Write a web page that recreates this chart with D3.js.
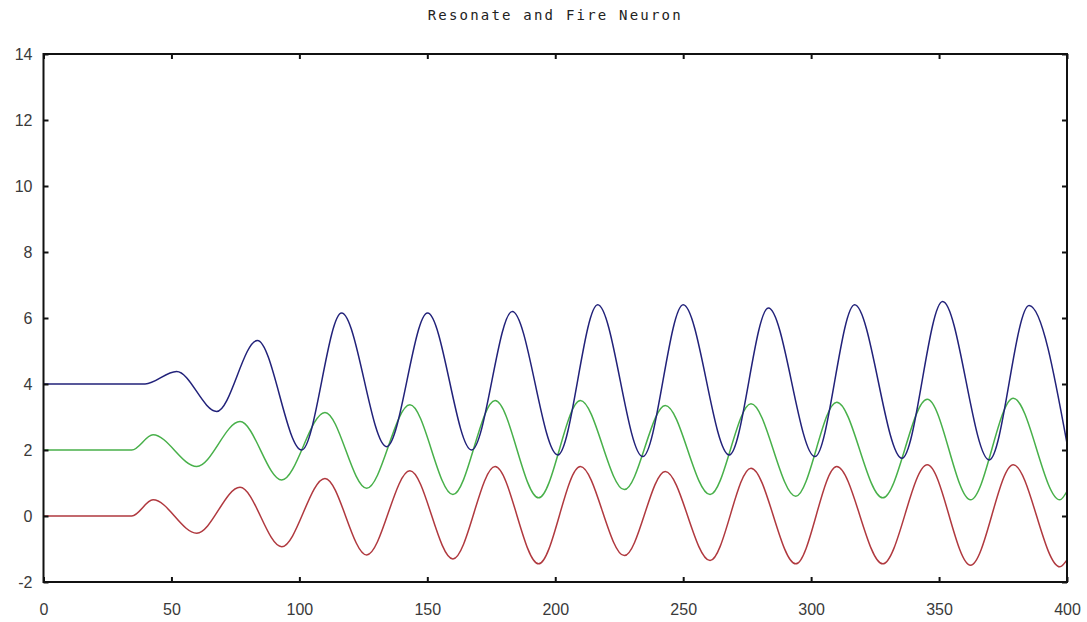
<!DOCTYPE html>
<html>
<head>
<meta charset="utf-8">
<script src="https://cdn.jsdelivr.net/npm/d3@7"></script>
<style>
  html, body { margin: 0; padding: 0; background: #fff; }
  svg { display: block; }
</style>
</head>
<body>
<svg id="chart" width="1087" height="622"></svg>
<script>
// Membrane potential traces of three resonate-and-fire neurons (extrema read per cycle)
const title = "Resonate and Fire Neuron";

const xTicks = [0, 50, 100, 150, 200, 250, 300, 350, 400];
const yTicks = [-2, 0, 2, 4, 6, 8, 10, 12, 14];

const tBlue = [0, 39.7, 52, 67.7, 83.6, 100.9, 116.5, 134.1, 150.1, 167.3, 183.2, 201, 216.6, 234.2, 250, 268, 283.3, 301.5, 317, 335.5, 351.4, 369.6, 385.2, 400];
const vBlue = [4, 4, 4.38, 3.17, 5.32, 2.0, 6.15, 2.1, 6.15, 2.0, 6.2, 1.85, 6.4, 1.8, 6.4, 1.85, 6.3, 1.8, 6.4, 1.75, 6.5, 1.7, 6.38, 2.2];

const tGreen = [0, 34.5, 42.8, 59.9, 76.8, 93.1, 110, 126.3, 143.2, 160, 176.5, 193.5, 209.8, 227, 243, 260.5, 276.5, 294, 310, 328, 345.4, 362.3, 379, 397.2, 400];
const vGreen = [2, 2, 2.46, 1.5, 2.86, 1.09, 3.14, 0.84, 3.37, 0.65, 3.5, 0.55, 3.5, 0.8, 3.35, 0.65, 3.4, 0.6, 3.45, 0.55, 3.54, 0.49, 3.57, 0.49, 0.75];

const tRed = [0, 34.5, 42.8, 59.9, 76.8, 93.1, 110, 126.3, 143.2, 160, 176.5, 193.5, 209.8, 227, 243, 260.5, 276.5, 294, 310, 328, 345.4, 362.3, 379, 397.2, 400];
const vRed = [0, 0, 0.49, -0.52, 0.87, -0.93, 1.14, -1.18, 1.37, -1.3, 1.5, -1.45, 1.5, -1.2, 1.35, -1.35, 1.45, -1.45, 1.5, -1.45, 1.55, -1.49, 1.55, -1.54, -1.33];

const series = [
  { t: tRed,   v: vRed,   color: "#b0393f" },
  { t: tGreen, v: vGreen, color: "#48b04a" },
  { t: tBlue,  v: vBlue,  color: "#22227a" }
];

const svg = d3.select("#chart");

const x = d3.scaleLinear().domain([0, 400]).range([43.5, 1067]);
const y = d3.scaleLinear().domain([-2, 14]).range([582, 54]);

// Curves
const line = d3.line()
  .x(d => x(d[0]))
  .y(d => y(d[1]))
  .curve(d3.curveMonotoneX);

series.forEach(s => {
  const pts = s.t.map((t, i) => [t, s.v[i]]);
  svg.append("path")
    .datum(pts)
    .attr("fill", "none")
    .attr("stroke", s.color)
    .attr("stroke-width", 1.5)
    .attr("d", line);
});

// Axes with inward ticks, mirrored on all four sides
const tickLen = 5;
const axisStyle = g => {
  g.select(".domain").remove();
  g.selectAll(".tick line").attr("stroke", "#111").attr("stroke-width", 2);
  g.selectAll(".tick text")
    .attr("fill", "#3a3a3a")
    .style("font-family", "'Liberation Sans', Arial, sans-serif")
    .style("font-size", "16px");
};

svg.append("g")
  .attr("transform", `translate(0,${y(-2)})`)
  .call(d3.axisBottom(x).tickValues(xTicks).tickSizeInner(-tickLen).tickSizeOuter(0).tickPadding(22).tickFormat(d3.format("d")))
  .call(axisStyle);

svg.append("g")
  .attr("transform", `translate(0,${y(14)})`)
  .call(d3.axisTop(x).tickValues(xTicks).tickSizeInner(-tickLen).tickSizeOuter(0).tickFormat(""))
  .call(axisStyle);

svg.append("g")
  .attr("transform", `translate(${x(0)},0)`)
  .call(d3.axisLeft(y).tickValues(yTicks).tickSizeInner(-tickLen).tickSizeOuter(0).tickPadding(11).tickFormat(d3.format("d")))
  .call(axisStyle)
  .selectAll(".tick text").text(d => d < 0 ? "-" + Math.abs(d) : d);

svg.append("g")
  .attr("transform", `translate(${x(400)},0)`)
  .call(d3.axisRight(y).tickValues(yTicks).tickSizeInner(-tickLen).tickSizeOuter(0).tickFormat(""))
  .call(axisStyle);

// Plot border
svg.append("rect")
  .attr("x", x(0))
  .attr("y", y(14))
  .attr("width", x(400) - x(0))
  .attr("height", y(-2) - y(14))
  .attr("fill", "none")
  .attr("stroke", "#111")
  .attr("stroke-width", 2);

// Title
svg.append("text")
  .attr("x", (x(0) + x(400)) / 2)
  .attr("y", 20)
  .attr("text-anchor", "middle")
  .attr("fill", "#222")
  .style("font-family", "'DejaVu Sans Mono', 'Liberation Mono', monospace")
  .style("font-size", "14px")
  .style("letter-spacing", "2.2px")
  .text(title);
</script>
</body>
</html>
